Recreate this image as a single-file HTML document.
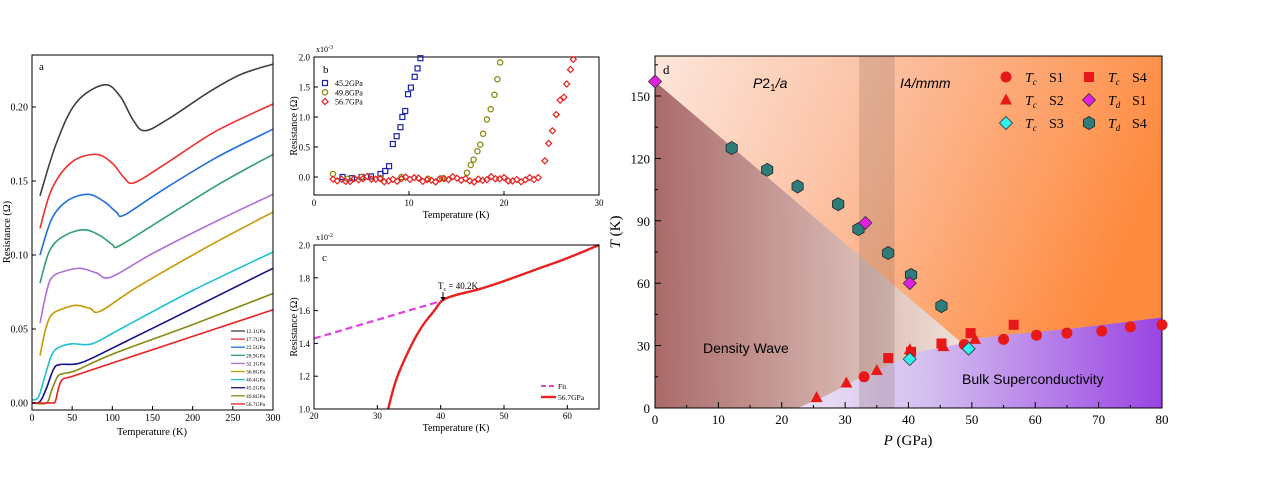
<!DOCTYPE html>
<html><head><meta charset="utf-8"><style>
html,body{margin:0;padding:0;background:#fff;}
svg{display:block;font-family:"Liberation Serif",serif;}
</style></head><body>
<svg id="s" width="1267" height="491" viewBox="0 0 1267 491" xmlns="http://www.w3.org/2000/svg">
<defs>
<linearGradient id="bg" x1="0" y1="0" x2="1" y2="0.3">
<stop offset="0" stop-color="#fde6dc"/><stop offset="0.4" stop-color="#fcc3a6"/><stop offset="1" stop-color="#fe8a3e"/></linearGradient>
<linearGradient id="dw" x1="0" y1="0" x2="1" y2="0">
<stop offset="0" stop-color="#a56565"/><stop offset="1" stop-color="#f0e4de"/></linearGradient>
<linearGradient id="sc" x1="0" y1="0" x2="1" y2="0">
<stop offset="0" stop-color="#ece2f4"/><stop offset="0.35" stop-color="#d4bff0"/><stop offset="1" stop-color="#9a44e2"/></linearGradient>
</defs>
<g id="g"></g>
</svg>
<script>
const g=document.getElementById('g');let h='';
function add(s){h+=s;}
function sm(pts){let d='M'+pts[0][0].toFixed(1)+','+pts[0][1].toFixed(1);
for(let i=0;i<pts.length-1;i++){const p0=pts[i-1]||pts[i],p1=pts[i],p2=pts[i+1],p3=pts[i+2]||p2;
d+=' C'+(p1[0]+(p2[0]-p0[0])/6).toFixed(1)+','+(p1[1]+(p2[1]-p0[1])/6).toFixed(1)+' '+(p2[0]-(p3[0]-p1[0])/6).toFixed(1)+','+(p2[1]-(p3[1]-p1[1])/6).toFixed(1)+' '+p2[0].toFixed(1)+','+p2[1].toFixed(1);}return d;}
function txt(x,y,t,sz,anc,extra){add(`<text x="${x}" y="${y}" font-size="${sz}" text-anchor="${anc||'start'}" ${extra||''}>${t}</text>`);}
// ---------- Panel a
const ax=T=>32+T*0.8033, ay=R=>403-R*1480;
const A=[
['#404040',[[10,.14],[30,.175],[55,.203],[90,.215],[110,.207],[125,.192],[140,.184],[170,.192],[220,.210],[260,.222],[300,.229]]],
['#ee3030',[[10,.118],[25,.145],[50,.163],[80,.168],[100,.162],[115,.152],[128,.149],[170,.163],[230,.184],[300,.202]]],
['#2070d8',[[10,.10],[25,.125],[45,.137],[70,.141],[90,.136],[105,.129],[115,.127],[160,.143],[230,.166],[300,.185]]],
['#30a070',[[10,.081],[22,.103],[40,.113],[65,.117],[85,.113],[100,.107],[108,.106],[150,.120],[230,.147],[300,.168]]],
['#b070d8',[[10,.054],[18,.075],[25,.085],[40,.089],[60,.091],[80,.088],[98,.085],[150,.101],[230,.123],[300,.141]]],
['#c89800',[[10,.032],[17,.050],[25,.060],[40,.064],[55,.066],[72,.064],[85,.062],[130,.078],[220,.106],[300,.129]]],
['#20c0d0',[[0,.002],[8,.004],[16,.018],[25,.033],[35,.038],[50,.040],[75,.040],[110,.050],[200,.076],[300,.102]]],
['#10108a',[[0,0],[10,.001],[18,.01],[27,.023],[35,.026],[60,.027],[100,.037],[200,.064],[300,.091]]],
['#888a10',[[0,0],[18,0],[24,.008],[32,.018],[40,.020],[55,.022],[100,.033],[200,.053],[300,.074]]],
['#e82020',[[0,0],[24,0],[29,.001],[33,.010],[38,.016],[50,.018],[100,.027],[200,.045],[300,.063]]]];
A.forEach(c=>add(`<path d="${sm(c[1].map(p=>[ax(p[0]),ay(p[1])]))}" fill="none" stroke="${c[0]}" stroke-width="1.6"/>`));
add('<rect x="32" y="55" width="241" height="355" fill="none" stroke="#000" stroke-width="1"/>');
[0,.05,.10,.15,.20].forEach(v=>{const y=ay(v);add(`<line x1="32" x2="36" y1="${y}" y2="${y}" stroke="#000"/>`);txt(28,y+3.5,v.toFixed(2),10,'end');});
[0,50,100,150,200,250,300].forEach(v=>{const x=ax(v);add(`<line x1="${x}" x2="${x}" y1="410" y2="406" stroke="#000"/>`);txt(x,421,v,10,'middle');});
txt(152,435,'Temperature (K)',10.5,'middle');
add('<text transform="translate(10,232) rotate(-90)" font-size="10.5" text-anchor="middle">Resistance (Ω)</text>');
txt(39,70,'a',11);
const L=['12.1GPa','17.7GPa','22.5GPa','28.9GPa','32.1GPa','36.8GPa','40.4GPa','45.2GPa','49.8GPa','56.7GPa'];
L.forEach((l,i)=>{const y=331+i*8.1;add(`<line x1="231" x2="245" y1="${y}" y2="${y}" stroke="${A[i][0]}" stroke-width="1.3"/>`);txt(246,y+2,l,5.5);});
// ---------- Panel b
const bx=T=>314+T*9.5, by=R=>177-R*60;
add('<rect x="314" y="57" width="285" height="138" fill="none" stroke="#000"/>');
[0,.5,1,1.5,2].forEach(v=>{const y=by(v);add(`<line x1="314" x2="318" y1="${y}" y2="${y}" stroke="#000"/>`);txt(310,y+3.5,v.toFixed(1),9,'end');});
[0,10,20,30].forEach(v=>{const x=bx(v);add(`<line x1="${x}" x2="${x}" y1="195" y2="191" stroke="#000"/>`);txt(x,206,v,9,'middle');});
txt(456,218,'Temperature (K)',10,'middle');
txt(316,52,'x10<tspan dy="-3" font-size="6">-3</tspan>',8);
add('<text transform="translate(297,126) rotate(-90)" font-size="10" text-anchor="middle">Resistance (Ω)</text>');
txt(323,73,'b',11);
let bl=[[3,0],[4,-.02],[5,0],[6,.01],[7,.05],[7.5,.1],[7.9,.18],[8.3,.55],[8.7,.68],[9.1,.83],[9.3,1.0],[9.6,1.1],[9.9,1.38],[10.2,1.49],[10.6,1.67],[10.9,1.81],[11.2,1.98]];
bl.forEach(p=>add(`<rect x="${bx(p[0])-2.5}" y="${by(p[1])-2.5}" width="5" height="5" fill="none" stroke="#1a22a8" stroke-width="1.2"/>`));
let ol=[[2,.05],[3.5,-.03],[5,0],[7,-.02],[9.2,0],[12,-.03],[13.5,-.02],[16.1,.07],[16.5,.2],[16.8,.29],[17.2,.43],[17.5,.54],[17.8,.72],[18.2,.96],[18.6,1.13],[19,1.37],[19.3,1.63],[19.6,1.91]];
ol.forEach(p=>add(`<circle cx="${bx(p[0])}" cy="${by(p[1])}" r="2.6" fill="none" stroke="#8a8a10" stroke-width="1.3"/>`));
let rd=[];for(let t=2;t<=24;t+=0.45){rd.push([t,-0.04+0.05*Math.sin(t*3.1)*Math.cos(t*1.7)]);}
rd=rd.concat([[24.3,.27],[24.7,.56],[25.1,.77],[25.5,1.04],[25.9,1.28],[26.3,1.33],[26.6,1.55],[27,1.79],[27.3,1.96]]);
rd.forEach(p=>{const x=bx(p[0]),y=by(p[1]);add(`<path d="M${x},${y-3}L${x+3},${y}L${x},${y+3}L${x-3},${y}Z" fill="none" stroke="#e82020" stroke-width="1.2"/>`);});
[['45.2GPa',0],['49.8GPa',1],['56.7GPa',2]].forEach(([l,i])=>{const y=83+i*9.3,x=325;
if(i==0)add(`<rect x="${x-2.5}" y="${y-2.5}" width="5" height="5" fill="none" stroke="#1a22a8" stroke-width="1.2"/>`);
if(i==1)add(`<circle cx="${x}" cy="${y}" r="2.6" fill="none" stroke="#8a8a10" stroke-width="1.3"/>`);
if(i==2)add(`<path d="M${x},${y-3}L${x+3},${y}L${x},${y+3}L${x-3},${y}Z" fill="none" stroke="#e82020" stroke-width="1.2"/>`);
txt(335,y+3,l,8);});
// ---------- Panel c
const cx=T=>314+(T-20)*6.333, cy=R=>245+(2-R)*164;
add(`<line x1="${cx(20)}" y1="${cy(1.43)}" x2="${cx(40.2)}" y2="${cy(1.66)}" stroke="#e040e0" stroke-width="2.2" stroke-dasharray="7,4"/>`);
add(`<path d="${sm([[31.7,1.0],[33,1.18],[35,1.36],[37,1.5],[39,1.6],[40.2,1.66],[42,1.69],[46,1.73],[50,1.78],[55,1.85],[60,1.92],[65,2.0]].map(p=>[cx(p[0]),cy(p[1])]))}" fill="none" stroke="#e82020" stroke-width="2.4"/>`);
add('<rect x="314" y="245" width="285" height="164" fill="none" stroke="#000"/>');
[1,1.2,1.4,1.6,1.8,2].forEach(v=>{const y=cy(v);add(`<line x1="314" x2="318" y1="${y}" y2="${y}" stroke="#000"/>`);txt(310,y+3.5,v.toFixed(1),9,'end');});
[20,30,40,50,60].forEach(v=>{const x=cx(v);add(`<line x1="${x}" x2="${x}" y1="409" y2="405" stroke="#000"/>`);txt(x,419,v,9,'middle');});
txt(456,431,'Temperature (K)',10,'middle');
txt(316,240,'x10<tspan dy="-3" font-size="6">-2</tspan>',8);
add('<text transform="translate(297,327) rotate(-90)" font-size="10" text-anchor="middle">Resistance (Ω)</text>');
txt(322,261,'c',11);
txt(438,289,'T<tspan dy="2" font-size="6">c</tspan><tspan dy="-2"> = 40.2K</tspan>',9);
add(`<line x1="443" y1="292" x2="443" y2="300" stroke="#000"/><path d="M440.5,297L443,301L445.5,297Z"/>`);
add('<line x1="541" x2="556" y1="386" y2="386" stroke="#e040e0" stroke-width="2" stroke-dasharray="5,3"/>');txt(558,389,'Fit',7.5);
add('<line x1="541" x2="556" y1="397" y2="397" stroke="#e82020" stroke-width="2.4"/>');txt(558,400,'56.7GPa',7.5);
// ---------- Panel d
const dx=P=>655+P*6.3375, dy=T=>408-T*2.08;
add(`<rect x="655" y="56" width="507" height="352" fill="url(#bg)"/>`);
const scB=[[22.5,0],[27,6],[32,14],[37,21],[42,27],[48,32],[55,35],[65,38],[80,43.5]];
add(`<path d="${sm(scB.map(p=>[dx(p[0]),dy(p[1])]))} L${dx(80)},${dy(0)} Z" fill="url(#sc)"/>`);
add(`<path d="M${dx(0)},${dy(157)} L${dx(48.5)},${dy(31)} ${sm([[48.5,31],[42,27],[37,21],[32,14],[27,6],[22.5,0]].map(p=>[dx(p[0]),dy(p[1])])).replace('M','L')} L${dx(0)},${dy(0)} Z" fill="url(#dw)" opacity="0.95"/>`);
add(`<rect x="${dx(32.2)}" y="56" width="${dx(37.8)-dx(32.2)}" height="352" fill="#7a5a50" opacity="0.22"/>`);
add('<rect x="655" y="56" width="507" height="352" fill="none" stroke="#000"/>');
[0,30,60,90,120,150].forEach(v=>{const y=dy(v);add(`<line x1="655" x2="661" y1="${y}" y2="${y}" stroke="#000"/>`);txt(650,y+5,v,13,'end');});
for(let v=15;v<170;v+=30){const y=dy(v);add(`<line x1="655" x2="658" y1="${y}" y2="${y}" stroke="#000"/>`);}
for(let v=0;v<=80;v+=5){const x=dx(v);add(`<line x1="${x}" x2="${x}" y1="408" y2="${v%10?405:402}" stroke="#000"/>`);if(v%10==0)txt(x,424,v,13,'middle');}
txt(908,445,'<tspan font-style="italic">P</tspan> (GPa)',15,'middle');
add('<text transform="translate(620,232) rotate(-90)" font-size="15" text-anchor="middle"><tspan font-style="italic">T</tspan> (K)</text>');
txt(663,74,'d',13);
add('<g font-family="Liberation Sans, sans-serif" font-size="14">');
txt(753,88,'<tspan font-style="italic">P</tspan>2<tspan dy="3" font-size="10">1</tspan><tspan dy="-3" font-style="italic">/a</tspan>',14);
txt(900,88,'<tspan font-style="italic">I</tspan>4<tspan font-style="italic">/mmm</tspan>',14);
txt(703,353,'Density Wave',14);
txt(962,384,'Bulk Superconductivity',14);
add('</g>');
function circ(P,T,c){return `<circle cx="${dx(P)}" cy="${dy(T)}" r="5.5" fill="${c}"/>`;}
function tri(P,T){const x=dx(P),y=dy(T);return `<path d="M${x},${y-6.5}L${x+6},${y+4.5}L${x-6},${y+4.5}Z" fill="#e81818"/>`;}
function sq(P,T){const x=dx(P),y=dy(T);return `<rect x="${x-5}" y="${y-5}" width="10" height="10" fill="#e81818"/>`;}
function dia(P,T,c){const x=dx(P),y=dy(T);return `<path d="M${x},${y-6.5}L${x+6.5},${y}L${x},${y+6.5}L${x-6.5},${y}Z" fill="${c}" stroke="#333" stroke-width="0.8"/>`;}
function hex(P,T){const x=dx(P),y=dy(T);let d='';for(let i=0;i<6;i++){const a=Math.PI/3*i+Math.PI/6;d+=(i?'L':'M')+(x+6.5*Math.cos(a)).toFixed(1)+','+(y+6.5*Math.sin(a)).toFixed(1);}return `<path d="${d}Z" fill="#2e7d7a" stroke="#222" stroke-width="0.8"/>`;}
[[25.5,5],[30.2,12],[35,18],[40.2,28],[45.5,29.5],[50.5,33]].forEach(p=>add(tri(...p)));
[[33,15],[48.8,30.5],[55,33],[60.2,35],[65,36],[70.5,37],[75,39],[80,40]].forEach(p=>add(circ(...p,'#e81818')));
[[36.8,24],[40.4,27],[45.2,31],[49.8,36],[56.6,40]].forEach(p=>add(sq(...p)));
[[40.2,23.5],[49.5,28.5]].forEach(p=>add(dia(...p,'#30f0f0')));
[[12.1,125],[17.7,114.5],[22.5,106.5],[28.9,98],[32.1,86],[36.8,74.5],[40.4,64],[45.2,49]].forEach(p=>add(hex(...p)));
[[0,157],[33.2,89],[40.2,60]].forEach(p=>add(dia(...p,'#e020e0')));
const lg=[[1006,77,'c','S1','c'],[1006,100,'t','S2','c'],[1006,123,'d','S3','c'],[1089,77,'s','S4','c'],[1089,100,'m','S1','d'],[1089,123,'h','S4','d']];
lg.forEach(([x,y,k,s,sub])=>{const P=(x-655)/6.3375,T=(408-y)/2.08;
add(k=='c'?circ(P,T,'#e81818'):k=='t'?tri(P,T):k=='d'?dia(P,T,'#30f0f0'):k=='s'?sq(P,T):k=='m'?dia(P,T,'#e020e0'):hex(P,T));
txt(x+19,y+5,'<tspan font-style="italic">T</tspan><tspan dy="3" font-size="9" font-style="italic">'+sub+'</tspan>',14);
txt(x+43,y+5,s,14);});
g.innerHTML=h;
</script>
</body></html>
